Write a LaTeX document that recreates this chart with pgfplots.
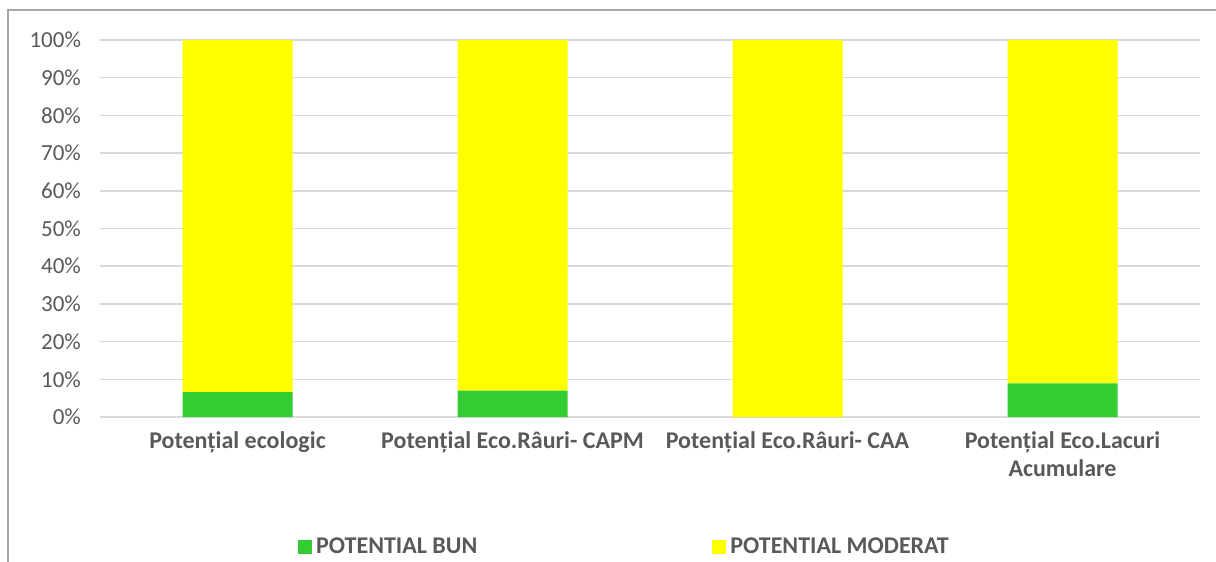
\documentclass[border=0pt]{standalone}
\usepackage{pgfplots}
\pgfplotsset{compat=1.18}
\usepackage{fontspec}
\setmainfont{Carlito}

\definecolor{bun}{HTML}{33CC33}
\definecolor{moderat}{HTML}{FFFF00}
\definecolor{txt}{HTML}{595959}
\definecolor{grid}{HTML}{D9D9D9}
\definecolor{frame}{HTML}{A6A6A6}

\begin{document}
\begin{tikzpicture}
% page = 1216 x 562 px, 1px = 0.5pt, axis box lower left at px (100,417)
\useasboundingbox (-50pt,-72.5pt) rectangle (558pt,208.5pt);
\clip (-50pt,-72.5pt) rectangle (558pt,208.5pt);
\draw[frame, line width=0.75pt] (-46pt,-80pt) -- (-46pt,203.5pt) -- (570pt,203.5pt);
\begin{axis}[
    at={(0pt,0pt)}, anchor=south west,
    scale only axis,
    width=550pt, height=188.5pt,
    ybar stacked,
    bar width=55pt,
    xmin=-0.5, xmax=3.5,
    ymin=0, ymax=100,
    ytick={0,10,...,100},
    yticklabel={\pgfmathprintnumber{\tick}\%},
    /pgf/number format/assume math mode=true,
    xtick=data,
    xticklabels={Potențial ecologic, Potențial Eco.Râuri- CAPM, Potențial Eco.Râuri- CAA, {Potențial Eco.Lacuri\\Acumulare}},
    x tick label style={font=\fontsize{12}{14}\selectfont\bfseries, text=txt, align=center, yshift=-4pt},
    y tick label style={font=\fontsize{11.5}{13}\selectfont, text=txt, xshift=-6pt},
    axis x line*=bottom,
    axis y line*=left,
    y axis line style={draw=none},
    x axis line style={draw=grid, line width=0.8pt},
    ymajorgrids,
    grid style={draw=grid, line width=0.8pt},
    major tick length=0pt,
    tick style={draw=none},
    legend columns=2,
    legend style={draw=none, fill=none, at={(262.75pt,-65pt)}, anchor=center,
        font=\fontsize{12}{14}\selectfont\bfseries, text=txt,
        /tikz/every even column/.append style={column sep=115.5pt}},
    legend image code/.code={\fill[#1] (0pt,-3.5pt) rectangle (7pt,3.5pt);},
    legend cell align=left,
]
\addplot[fill=bun, draw=none] coordinates {(0,6.6) (1,7.0) (2,0) (3,8.9)};
\addplot[fill=moderat, draw=none] coordinates {(0,93.4) (1,93.0) (2,100) (3,91.1)};
\legend{POTENTIAL BUN, POTENTIAL MODERAT}
\end{axis}
\end{tikzpicture}
\end{document}
